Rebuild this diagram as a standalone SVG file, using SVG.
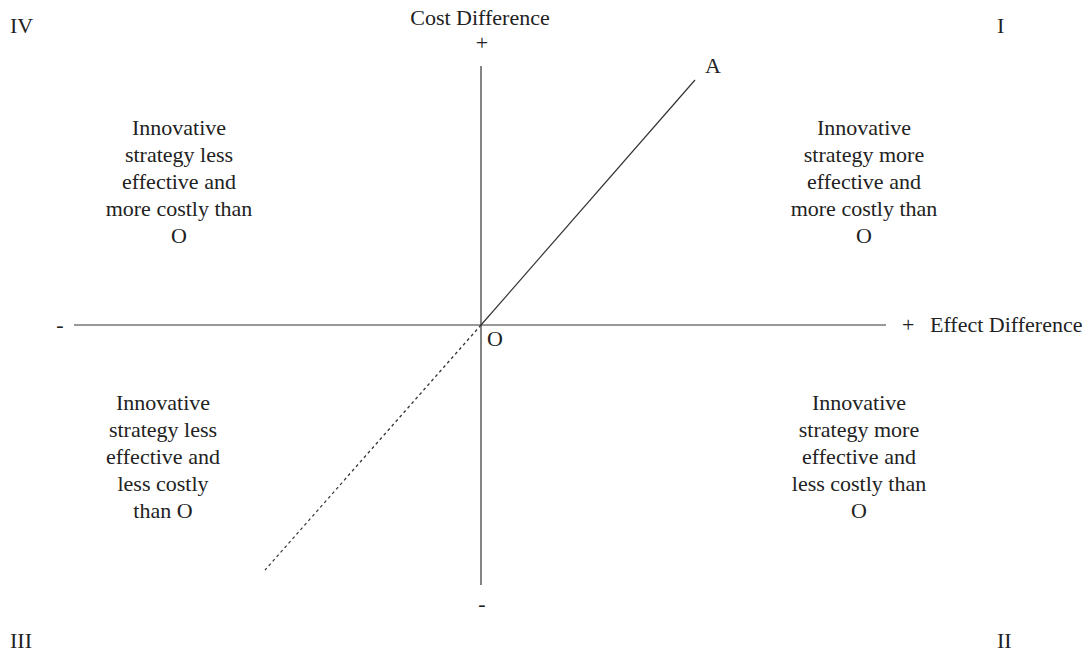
<svg xmlns="http://www.w3.org/2000/svg" width="1087" height="655" viewBox="0 0 1087 655">
<style>
text{font-family:"Liberation Serif","Times New Roman",serif;font-size:22px;fill:#222}
.c{text-anchor:middle}
.ax{stroke:#333;stroke-width:1.2;fill:none}
</style>
<rect width="1087" height="655" fill="#fff"/>
<g id="connectors">
<line class="ax" x1="481" y1="66" x2="481" y2="585"/>
<line class="ax" x1="74" y1="325" x2="886" y2="325"/>
<line class="ax" x1="481" y1="325" x2="695" y2="80"/>
<line class="ax" x1="481" y1="325" x2="265" y2="570" stroke-dasharray="3,3"/>
</g>
<g id="labels">
<text class="c" x="480" y="25">Cost Difference</text>
<text class="c" x="482" y="50">+</text>
<text class="c" x="482" y="611">-</text>
<text class="c" x="60" y="332">-</text>
<text x="902" y="332">+</text>
<text x="930" y="332">Effect Difference</text>
<text x="705" y="73">A</text>
<text x="487" y="346">O</text>
<text x="10" y="33">IV</text>
<text x="997" y="33">I</text>
<text x="10" y="648">III</text>
<text x="997" y="648">II</text>
</g>
<g id="q4">
<text class="c" x="179" y="135">Innovative</text>
<text class="c" x="179" y="162">strategy less</text>
<text class="c" x="179" y="189">effective and</text>
<text class="c" x="179" y="216">more costly than</text>
<text class="c" x="179" y="243">O</text>
</g>
<g id="q1">
<text class="c" x="864" y="135">Innovative</text>
<text class="c" x="864" y="162">strategy more</text>
<text class="c" x="864" y="189">effective and</text>
<text class="c" x="864" y="216">more costly than</text>
<text class="c" x="864" y="243">O</text>
</g>
<g id="q3">
<text class="c" x="163" y="410">Innovative</text>
<text class="c" x="163" y="437">strategy less</text>
<text class="c" x="163" y="464">effective and</text>
<text class="c" x="163" y="491">less costly</text>
<text class="c" x="163" y="518">than O</text>
</g>
<g id="q2">
<text class="c" x="859" y="410">Innovative</text>
<text class="c" x="859" y="437">strategy more</text>
<text class="c" x="859" y="464">effective and</text>
<text class="c" x="859" y="491">less costly than</text>
<text class="c" x="859" y="518">O</text>
</g>
</svg>
